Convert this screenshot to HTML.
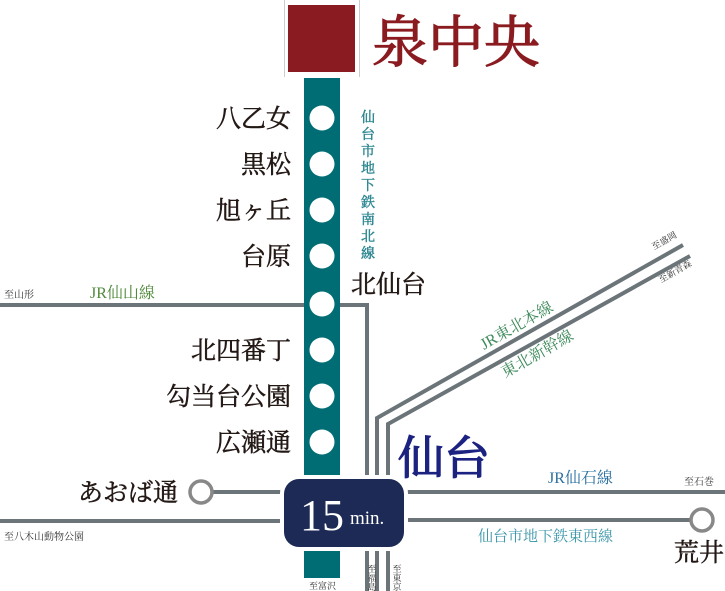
<!DOCTYPE html>
<html><head><meta charset="utf-8"><style>
body{margin:0;background:#fff;width:725px;height:591px;overflow:hidden}
svg{display:block}
.s{font-family:"Liberation Serif","Noto Serif CJK SC",serif}
</style></head><body>
<svg width="725" height="591" viewBox="0 0 725 591" class="s">
<rect width="725" height="591" fill="#fff"/>
<line x1="284.5" y1="0" x2="284.5" y2="77" stroke="#ccc" stroke-width="1"/>
<line x1="359.5" y1="0" x2="359.5" y2="77" stroke="#ccc" stroke-width="1"/>
<rect x="288" y="5" width="67" height="67" fill="#8a1c21"/>
<text x="372" y="62" font-size="56" fill="#8a1c21" stroke="#8a1c21" stroke-width="1.2">泉中央</text>
<g stroke="#6b7478" stroke-width="4" fill="none">
<polyline points="0,305 367,305 367,591"/>
<polyline points="377,591 377,418 683,245"/>
<polyline points="388,591 388,424 690,256"/>
<line x1="212" y1="492" x2="290" y2="492"/>
<line x1="0" y1="521" x2="290" y2="521"/>
<line x1="400" y1="492" x2="725" y2="492"/>
<line x1="400" y1="520" x2="690" y2="520"/>
</g>
<circle cx="201" cy="492" r="11" fill="#fff" stroke="#888" stroke-width="3.5"/>
<circle cx="702" cy="520" r="11" fill="#fff" stroke="#888" stroke-width="3.5"/>
<rect x="304" y="78" width="36" height="500" fill="#006d75"/>
<g fill="#fff">
<circle cx="322" cy="118" r="12.5"/><circle cx="322" cy="164" r="12.5"/>
<circle cx="322" cy="210" r="12.5"/><circle cx="322" cy="256" r="12.5"/>
<circle cx="322" cy="304" r="12.5"/><circle cx="322" cy="350" r="12.5"/>
<circle cx="322" cy="396" r="12.5"/><circle cx="322" cy="442" r="12.5"/>
</g>
<g font-size="25" fill="#231815" stroke="#231815" stroke-width="0.5" text-anchor="end">
<text x="291" y="127">八乙女</text>
<text x="291" y="173">黒松</text>
<text x="291" y="219">旭ヶ丘</text>
<text x="291" y="265">台原</text>
<text x="291" y="359">北四番丁</text>
<text x="291" y="405">勾当台公園</text>
<text x="291" y="451">広瀬通</text>
<text x="178" y="501">あおば通</text>
</g>
<text x="351" y="293" font-size="25" fill="#231815" stroke="#231815" stroke-width="0.5">北仙台</text>
<text x="674" y="561" font-size="25" fill="#231815" stroke="#231815" stroke-width="0.5">荒井</text>
<text x="398" y="474" font-size="46" fill="#1c2280" stroke="#1c2280" stroke-width="1.3">仙台</text>
<g font-size="14" fill="#2a8590" stroke="#2a8590" stroke-width="0.4" text-anchor="middle">
<text x="368" y="122">仙</text><text x="368" y="139">台</text><text x="368" y="156">市</text>
<text x="368" y="173">地</text><text x="368" y="190">下</text><text x="368" y="207">鉄</text>
<text x="368" y="224">南</text><text x="368" y="241">北</text><text x="368" y="258">線</text>
</g>
<text x="90" y="298" font-size="16" fill="#4f8a3a">JR仙山線</text>
<text x="4" y="298" font-size="10" fill="#333">至山形</text>
<text x="4" y="540" font-size="10" fill="#333">至八木山動物公園</text>
<text x="548" y="483" font-size="16" fill="#2a6fa0">JR仙石線</text>
<text x="684" y="485" font-size="10" fill="#333">至石巻</text>
<text x="478" y="541" font-size="15" fill="#3a96a8">仙台市地下鉄東西線</text>
<g transform="translate(484,350) rotate(-29.5)"><text font-size="16" fill="#3d8a5a">JR東北本線</text></g>
<g transform="translate(505,378) rotate(-29.5)"><text font-size="16" fill="#3d8a5a">東北新幹線</text></g>
<g transform="translate(654,250) rotate(-29.5)"><text font-size="9" fill="#333">至盛岡</text></g>
<g transform="translate(661,283) rotate(-29.5)"><text font-size="9" fill="#333">至新青森</text></g>
<rect x="280" y="475" width="128" height="76" rx="18" fill="#fff"/>
<rect x="284" y="479" width="120" height="68" rx="15" fill="#1c2a55"/>
<text x="300" y="530" font-size="44" fill="#fff">15</text>
<text x="350" y="524" font-size="19" fill="#fff">min.</text>
<text x="309" y="589" font-size="9" fill="#333">至富沢</text>
<g font-size="9" fill="#333" text-anchor="middle">
<text x="372" y="572">至</text><text x="372" y="581">福</text><text x="372" y="590">島</text>
<text x="397" y="572">至</text><text x="397" y="581">東</text><text x="397" y="590">京</text>
</g>
</svg>
</body></html>
